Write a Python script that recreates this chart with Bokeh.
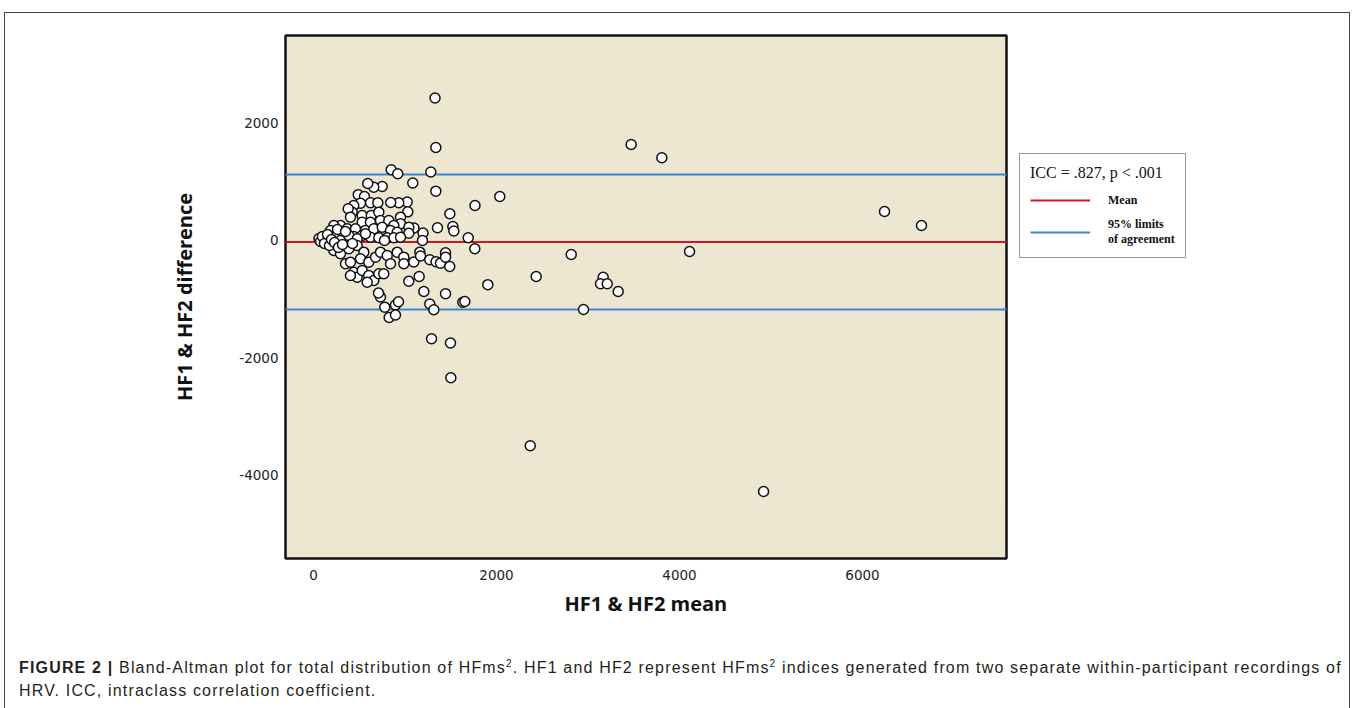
from bokeh.plotting import figure
from bokeh.models import (Range1d, FixedTicker, Legend, LegendItem, Div, BoxAnnotation,
                          ColumnDataSource, PrintfTickFormatter, Title)
from bokeh.layouts import column
from bokeh.embed import file_html
from bokeh.resources import INLINE

# ---- data ----
hf_mean = [1328, 1337, 3472, 3807, 6241, 6645, 4110, 2817, 2434, 3166,
           3137, 3210, 3330, 2951, 2369, 4919, 2036, 1765, 1490, 1523,
           1534, 1355, 1691, 1763, 1905, 1290, 1497, 1501, 1632, 1654,
           1443, 1206, 1271, 1315, 1155, 1041, 732, 710, 779, 896,
           929, 827, 896, 849, 921, 1282, 1085, 1337, 1197, 1191,
           1098, 1024, 1031, 932, 844, 751, 659, 593, 489, 557,
           623, 703, 514, 440, 423, 379, 532, 631, 714, 404,
           532, 623, 732, 823, 951, 951, 878, 1042, 1042, 295,
           368, 459, 568, 659, 751, 842, 915, 222, 186, 259,
           331, 440, 532, 623, 714, 806, 878, 951, 113, 150,
           295, 386, 477, 568, 776, 222, 295, 386, 477, 550,
           350, 404, 514, 604, 678, 732, 806, 842, 915, 987,
           987, 1096, 1162, 1170, 1271, 1339, 1388, 1443, 1443, 1489,
           440, 477, 532, 604, 659, 714, 768, 587, 404, 60,
           77, 98, 120, 153, 175, 197, 230, 262, 273, 317, 350, 426]
hf_diff = [2425, 1583, 1634, 1408, 494, 255, -187, -238, -613, -625,
           -737, -737, -868, -1174, -3494, -4272, 749, 596, 454, 238,
           162, 216, 46, -141, -752, -1673, -1745, -2337, -1052, -1038,
           -907, -868, -1081, -1179, -613, -693, -962, -894, -1135, -1098,
           -1042, -1311, -1268, 1203, 1135, 1166, 979, 839, 128, 0,
           213, 655, 488, 642, 647, 919, 907, 970, 780, 749,
           642, 642, 635, 596, 482, 540, 426, 426, 482, 397,
           311, 311, 340, 340, 397, 284, 255, 226, 124, 255,
           199, 199, 170, 199, 226, 170, 141, 255, 170, 114,
           85, 68, 85, 56, 46, 46, 46, 56, 56, 29,
           0, 85, 29, 114, 0, -170, -226, -141, -85, -199,
           -397, -369, -311, -369, -284, -199, -255, -397, -199, -284,
           -397, -366, -199, -264, -328, -363, -386, -209, -284, -443,
           -540, -625, -511, -596, -681, -567, -567, -710, -596, 34,
           -17, 68, -51, 102, -85, 17, -34, 187, -119, -68, 153, -51]

mean_diff = -25
loa_upper = 1123
loa_lower = -1173

x_ticks = [0, 2000, 4000, 6000]
y_ticks = [-4000, -2000, 0, 2000]

x_title = "HF1 & HF2 mean"
y_title = "HF1 & HF2 difference"
legend_title = "ICC = .827, p < .001"
legend_labels = ["Mean", "95% limits\nof agreement"]

# plotting-area extent (axis limits of the beige panel)
X_LO, X_HI = -306, 7574
Y_LO, Y_HI = -5413, 3489

# layout geometry (pixels)
PANEL_W, PANEL_H = 721, 523
PAD = 2                      # white margin around the panel inside the frame
FRAME_W = 917                # frame also hosts the legend on the right
FRAME_H = PANEL_H + 2 * PAD

ux = (X_HI - X_LO) / PANEL_W
uy = (Y_HI - Y_LO) / PANEL_H
xr = Range1d(X_LO - PAD * ux, X_LO - PAD * ux + FRAME_W * ux)
yr = Range1d(Y_LO - PAD * uy, Y_HI + PAD * uy)

RED = "#d4122a"
BLUE = "#3a86d8"

p = figure(frame_width=FRAME_W, frame_height=FRAME_H, output_backend="svg",
           toolbar_location=None, x_range=xr, y_range=yr,
           min_border_left=278, min_border_right=139, min_border_top=20,
           min_border_bottom=68)
p.background_fill_color = "white"
p.border_fill_color = "white"
p.outline_line_color = None
p.xgrid.visible = False
p.ygrid.visible = False

p.add_layout(BoxAnnotation(left=X_LO, right=X_HI, bottom=Y_LO, top=Y_HI,
                           fill_color="#ede6d1", fill_alpha=1.0,
                           line_color="#111111", line_alpha=1.0, line_width=2.5,
                           level="underlay"))

for ax, ticks in ((p.xaxis[0], x_ticks), (p.yaxis[0], y_ticks)):
    ax.ticker = FixedTicker(ticks=ticks)
    ax.formatter = PrintfTickFormatter(format="%d")
    ax.axis_line_color = None
    ax.major_tick_line_color = None
    ax.minor_tick_line_color = None
    ax.major_tick_out = 0
    ax.major_tick_in = 0
    ax.major_label_text_font = "DejaVu Sans"
    ax.major_label_text_font_size = "13.5px"
    ax.major_label_text_color = "#222222"
    ax.axis_label_text_font = "Open Sans"
    ax.axis_label_text_font_style = "bold"
    ax.axis_label_text_color = "#111111"
    ax.axis_label_text_font_size = "20px"

p.yaxis.axis_label = y_title
p.xaxis.major_label_standoff = 9
p.yaxis.major_label_standoff = 5
p.yaxis.axis_label_standoff = 38

# x-axis title centred under the beige panel (not under the whole frame)
p.add_layout(Title(text=x_title, align="left", offset=281, standoff=10,
                   text_font="Open Sans", text_font_style="bold",
                   text_font_size="20px", text_color="#111111"), "below")

# reference lines: mean difference and 95% limits of agreement
r_mean = p.line(x=[X_LO, X_HI], y=[mean_diff, mean_diff], line_color=RED, line_width=2)
r_loa = p.line(x=[X_LO, X_HI], y=[loa_upper, loa_upper], line_color=BLUE, line_width=2)
p.line(x=[X_LO, X_HI], y=[loa_lower, loa_lower], line_color=BLUE, line_width=2)

src = ColumnDataSource(dict(x=hf_mean, y=hf_diff))
p.scatter("x", "y", source=src, size=10, fill_color="white",
          line_color="#111111", line_width=1.5)

legend = Legend(items=[LegendItem(label=legend_labels[0], renderers=[r_mean]),
                       LegendItem(label=legend_labels[1], renderers=[r_loa])],
                location=(PANEL_W + PAD + 13, 302), title=legend_title)
legend.margin = 0
legend.padding = 10
legend.spacing = 7
legend.glyph_width = 60
legend.label_standoff = 18
legend.title_standoff = 8
legend.border_line_color = "#333333"
legend.border_line_width = 1.5
legend.background_fill_color = "white"
legend.title_text_font = "Liberation Serif"
legend.title_text_font_size = "16px"
legend.title_text_font_style = "normal"
legend.title_text_color = "#111111"
legend.label_text_font = "Liberation Serif"
legend.label_text_font_size = "12px"
legend.label_text_font_style = "bold"
legend.label_text_color = "#111111"
p.add_layout(legend, "center")

caption = Div(width=1334, height=77, text=(
    '<div style="font-family: \'Liberation Sans\', Arial, sans-serif; font-size: 16px; '
    'letter-spacing: 1.17px; color:#231f20; line-height:23px; padding:19px 0 0 9px; white-space:nowrap;">'
    '<b>FIGURE 2 |</b> Bland-Altman plot for total distribution of HFms<sup style="font-size:10px">2</sup>. '
    'HF1 and HF2 represent HFms<sup style="font-size:10px">2</sup> indices generated from two separate '
    'within-participant recordings of<br>HRV. ICC, intraclass correlation coefficient.</div>'))

layout = column(p, caption, styles={"border": "1px solid #444444"}, margin=(12, 0, 0, 4))

open("out.html", "w").write(file_html(layout, INLINE))
